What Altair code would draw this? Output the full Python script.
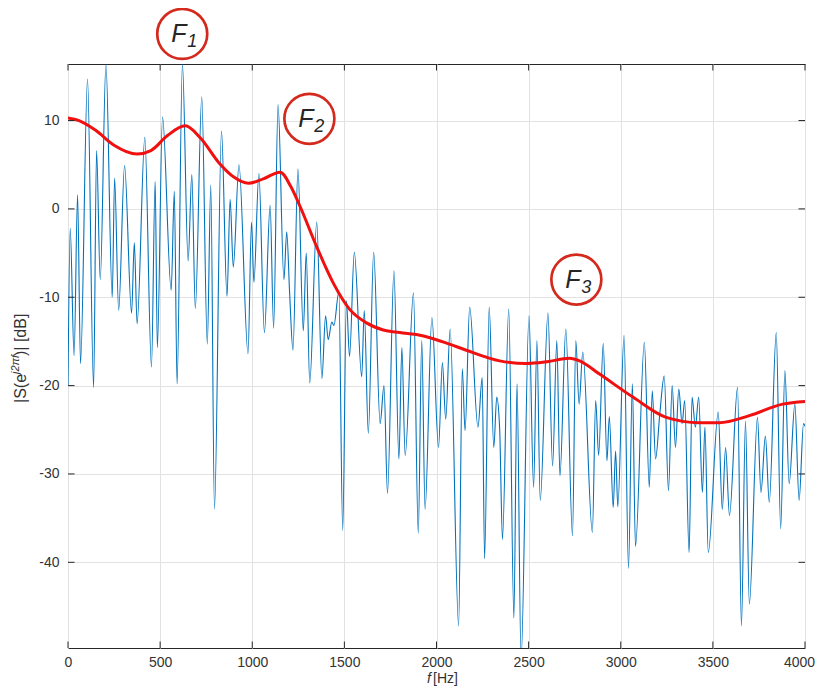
import altair as alt
import pandas as pd

# ---------------- data ----------------
blue_f = [
    0, 12, 33, 52, 68, 106, 139, 155, 175, 206,
    240, 253, 275, 307, 345, 360, 375, 417, 453, 473,
    485, 513, 560, 577, 592, 621, 652, 672, 691, 726,
    756, 775, 795, 833, 863, 880, 897, 928, 977, 996,
    1009, 1036, 1066, 1097, 1116, 1140, 1172, 1187, 1203, 1221,
    1248, 1277, 1293, 1312, 1350, 1378, 1398, 1412, 1432, 1443,
    1470, 1491, 1511, 1528, 1554, 1594, 1608, 1630, 1659, 1694,
    1715, 1734, 1769, 1796, 1812, 1830, 1875, 1901, 1920, 1938,
    1975, 2011, 2032, 2050, 2074, 2120, 2140, 2155, 2180, 2225,
    2248, 2261, 2286, 2311, 2327, 2343, 2358, 2392, 2420, 2437,
    2459, 2502, 2527, 2545, 2563, 2605, 2630, 2653, 2670, 2702,
    2738, 2756, 2774, 2794, 2846, 2864, 2880, 2905, 2925, 2938,
    2959, 2972, 2984, 3018, 3042, 3063, 3080, 3128, 3155, 3171,
    3189, 3212, 3236, 3259, 3279, 3297, 3315, 3333, 3347, 3371,
    3387, 3405, 3423, 3443, 3457, 3475, 3529, 3551, 3569, 3590,
    3634, 3655, 3677, 3698, 3742, 3761, 3785, 3806, 3844, 3868,
    3891, 3914, 3945, 3968, 3992, 4000,
]
blue_db = [
    -20.0, -2.2, -16.6, 1.6, -17.5, 14.7, -20.2, 6.6, -8.0, 16.4,
    -10.0, 3.5, -11.5, 4.9, -11.8, -3.8, -13.0, 8.1, -17.9, 3.1,
    -15.7, 10.4, -9.2, 2.0, -19.8, 16.4, -5.9, 3.9, -11.3, 12.7,
    -15.3, 2.7, -34.0, 8.8, -9.9, 1.1, -6.6, 5.0, -16.4, -1.5,
    -8.3, 4.0, -14.0, 0.4, -13.5, 11.8, -8.0, -2.6, -9.6, -16.0,
    4.5, -13.8, -5.0, -19.7, -1.5, -19.2, -12.1, -14.8, -12.8, -13.2,
    -9.4, -36.4, -10.4, -16.7, -4.9, -19.0, -11.5, -25.4, -4.9, -24.3,
    -20.0, -32.2, -7.0, -28.3, -15.7, -27.9, -9.5, -36.7, -14.9, -34.0,
    -12.3, -27.0, -17.4, -23.8, -13.6, -47.2, -18.1, -25.1, -11.1, -24.7,
    -19.1, -39.6, -11.1, -27.0, -21.3, -25.0, -37.4, -11.3, -46.3, -19.8,
    -51.0, -12.1, -31.5, -14.9, -33.0, -11.8, -29.1, -14.9, -30.2, -13.6,
    -37.0, -14.9, -22.1, -16.2, -36.6, -21.7, -27.9, -15.2, -28.5, -23.5,
    -33.8, -27.4, -33.7, -14.3, -40.7, -19.8, -38.2, -15.1, -31.5, -20.6,
    -28.3, -23.2, -18.9, -31.9, -20.0, -27.0, -20.4, -24.3, -21.7, -38.9,
    -21.3, -24.7, -21.3, -32.1, -24.7, -38.9, -23.0, -34.0, -27.0, -34.7,
    -20.2, -47.2, -24.0, -44.7, -23.6, -32.1, -25.7, -33.2, -14.0, -36.2,
    -18.3, -31.1, -22.1, -33.0, -24.3, -24.6,
]

red_f = [0, 60, 150, 250, 374, 450, 540, 636, 720, 820, 900, 979, 1060,
         1151, 1210, 1259, 1350, 1440, 1530, 1620, 1711, 1800, 1910, 1982,
         2070, 2162, 2343, 2488, 2600, 2723, 2777, 2885, 3066, 3247, 3427,
         3535, 3698, 3879, 4000]
red_db = [10.3, 10.0, 8.9, 7.2, 6.2, 6.6, 8.3, 9.4, 8.0, 5.2, 3.6, 2.9, 3.4,
          4.15, 2.5, 0.3, -4.3, -8.4, -11.4, -12.9, -13.7, -14.0, -14.3, -14.7,
          -15.3, -16.0, -17.2, -17.5, -17.3, -16.9, -17.2, -18.7, -21.3, -23.6,
          -24.2, -24.2, -23.4, -22.1, -21.8]

ann_main = ["F", "F", "F"]
ann_sub = ["1", "2", "3"]
ann_f = [620, 1310, 2759]
ann_db = [19.8, 10.2, -8.0]

x_ticks = [0, 500, 1000, 1500, 2000, 2500, 3000, 3500, 4000]
y_ticks = [-40, -30, -20, -10, 0, 10]

# ---------------- layout / styling ----------------
W, H = 737, 584
FONT = "Liberation Sans"
TXT = "#333333"
FRAME = "#262626"

xs = alt.Scale(domain=[0, 4000], nice=False, zero=False)
ys = alt.Scale(domain=[-49.7, 16.4], nice=False, zero=False)

blue_df = pd.DataFrame({"f": blue_f, "db": blue_db})
red_df = pd.DataFrame({"f": red_f, "db": red_db})
ann_df = pd.DataFrame({"f": ann_f, "db": ann_db, "m": ann_main, "s": ann_sub})
xt_df = pd.DataFrame({"f": x_ticks})
yt_df = pd.DataFrame({"db": y_ticks})

x_axis = alt.Axis(values=x_ticks, grid=True, gridColor="#e2e2e2", gridWidth=1,
                  ticks=False, domain=False, labelFont=FONT, labelFontSize=14,
                  labelColor=TXT, labelPadding=7, labelFlush=False,
                  labelOffset={"condition": {"test": "datum.value == 4000",
                                             "value": -6},
                               "value": 0},
                  labelExpr="'' + datum.value", title=None)
y_axis = alt.Axis(values=y_ticks, grid=True, gridColor="#e2e2e2", gridWidth=1,
                  ticks=False, domain=False, labelFont=FONT, labelFontSize=14,
                  labelColor=TXT, labelPadding=9, labelFlush=False,
                  labelExpr="'' + datum.value", title=None)


def X():
    return alt.X("f:Q", scale=xs, axis=x_axis)


def Y():
    return alt.Y("db:Q", scale=ys, axis=y_axis)


blue = alt.Chart(blue_df).mark_line(
    color="#0072BD", strokeWidth=1.1, interpolate="monotone", clip=True
).encode(x=X(), y=Y())

red = alt.Chart(red_df).mark_line(
    color="#f01010", strokeWidth=3, interpolate="monotone", clip=True
).encode(x=X(), y=Y())

# inward MATLAB-style ticks
tick_kw = dict(color=FRAME, strokeWidth=1)
tb = alt.Chart(xt_df).mark_rule(**tick_kw).encode(
    x=X(), y=alt.value(H), y2=alt.value(H - 6.5))
tt = alt.Chart(xt_df).mark_rule(**tick_kw).encode(
    x=X(), y=alt.value(0), y2=alt.value(6.5))
tl = alt.Chart(yt_df).mark_rule(**tick_kw).encode(
    y=Y(), x=alt.value(0), x2=alt.value(6.5))
tr = alt.Chart(yt_df).mark_rule(**tick_kw).encode(
    y=Y(), x=alt.value(W), x2=alt.value(W - 6.5))

circ = alt.Chart(ann_df).mark_point(
    shape="circle", size=2500, filled=False, stroke="#d42a1e",
    strokeWidth=2.7, opacity=1
).encode(x=X(), y=Y())

ftxt = alt.Chart(ann_df).mark_text(
    font=FONT, fontStyle="italic", fontSize=25, align="left",
    baseline="alphabetic", dx=-11, dy=8, color="#262626"
).encode(x=X(), y=Y(), text="m:N")

stxt = alt.Chart(ann_df).mark_text(
    font=FONT, fontStyle="italic", fontSize=18, align="left",
    baseline="alphabetic", dx=5, dy=13, color="#262626"
).encode(x=X(), y=Y(), text="s:N")


def label(txt, px, py, **kw):
    return alt.Chart(pd.DataFrame({"t": [txt]})).mark_text(
        font=FONT, color=TXT, baseline="alphabetic", align="left", **kw
    ).encode(x=alt.value(px), y=alt.value(py), text="t:N")


# axis titles (pieces so that italics / superscript survive)
xt1 = label("f", 359, 619, fontSize=14, fontStyle="italic")
xt2 = label("[Hz]", 365, 619, fontSize=14)
yt1 = label("|S(e", -42, 339, fontSize=16, angle=270)
yt2 = label("j2\u03c0f", -49, 310, fontSize=11, angle=270, fontStyle="italic")
yt3 = label(")| [dB]", -42, 292, fontSize=16, angle=270)

chart = alt.layer(
    blue, red, tb, tt, tl, tr, circ, ftxt, stxt, xt1, xt2, yt1, yt2, yt3
).properties(
    width=W, height=H,
    autosize=alt.AutoSizeParams(type="none"),
    padding={"left": 60, "top": 56, "right": 10, "bottom": 38},
).configure_view(stroke=FRAME, strokeWidth=1)

chart.save("out.html", embed_options={"renderer": "svg", "actions": False})
